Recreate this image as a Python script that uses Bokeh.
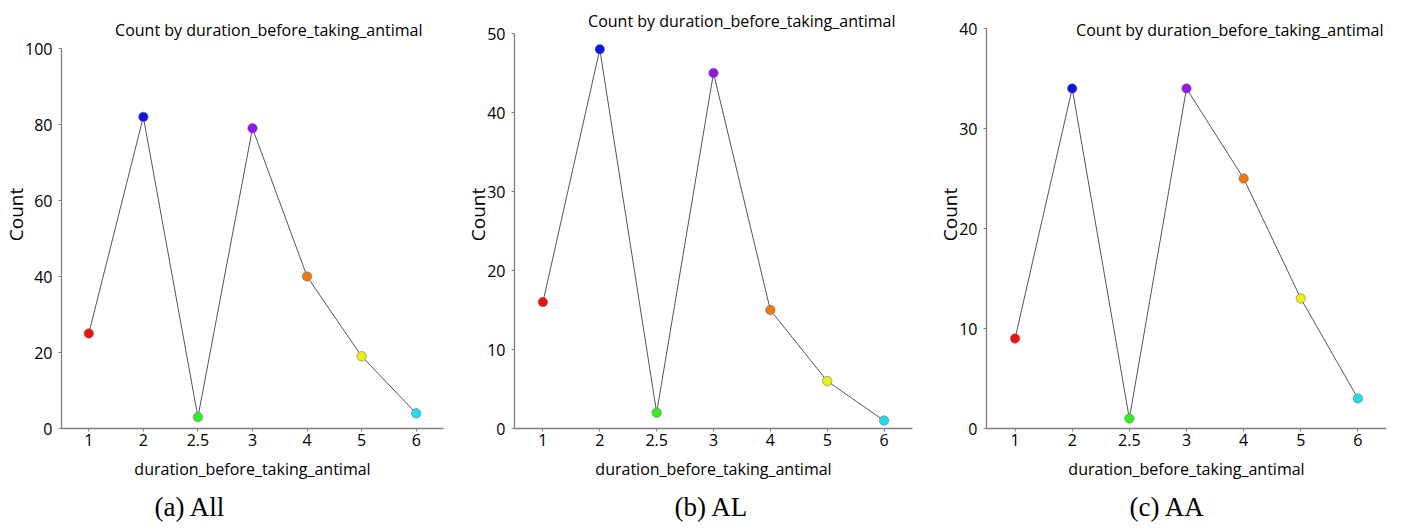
from bokeh.plotting import figure
from bokeh.models import FactorRange, Range1d, FixedTicker, Title, ColumnDataSource, Label
from bokeh.layouts import row
from bokeh.embed import file_html
from bokeh.resources import INLINE

categories = ["1", "2", "2.5", "3", "4", "5", "6"]
counts_all = [25, 82, 3, 79, 40, 19, 4]
counts_al = [16, 48, 2, 45, 15, 6, 1]
counts_aa = [9, 34, 1, 34, 25, 13, 3]
point_colors = ["#ee1111", "#1111ee", "#33ee22", "#9911ee", "#ee7711", "#eeee11", "#22ddee"]
yticks_all = [0, 20, 40, 60, 80, 100]
yticks_al = [0, 10, 20, 30, 40, 50]
yticks_aa = [0, 10, 20, 30, 40]
title_text = "Count by duration_before_taking_antimal"
x_label = "duration_before_taking_antimal"
y_label = "Count"
captions = ["(a) All", "(b) AL", "(c) AA"]

SANS = "Open Sans"
PAGE_TOP = 0          # observed: the layout starts at the top edge
FRAME_BOTTOM = 428    # page y of the x axis
FRAME_H = FRAME_BOTTOM - PAGE_TOP
LEFT = 52
BOTTOM = 102


def make_panel(values, yticks, caption, fw, right, top_tick_px,
               title_right_px, title_base_px, cap_offset):
    ppu = (FRAME_BOTTOM - top_tick_px) / yticks[-1]
    y_end = FRAME_H / ppu
    p = figure(x_range=FactorRange(factors=categories),
               y_range=Range1d(0, y_end),
               frame_width=fw, frame_height=FRAME_H,
               min_border_left=LEFT, min_border_right=right,
               min_border_top=0, min_border_bottom=BOTTOM,
               output_backend="svg", toolbar_location=None, title=None,
               background_fill_color="white", border_fill_color="white")
    p.outline_line_color = None
    p.xgrid.grid_line_color = None
    p.ygrid.grid_line_color = None

    n = len(categories)
    tx = title_right_px * n / fw
    ty = y_end - (title_base_px - PAGE_TOP) / ppu
    p.add_layout(Label(x=tx, y=ty, text=title_text, text_align="right",
                       text_baseline="alphabetic", text_font=SANS,
                       text_font_size="16px", text_color="black"))

    src = ColumnDataSource(dict(x=categories, y=values, c=point_colors))
    p.line("x", "y", source=src, line_color="#555555", line_width=1)
    p.scatter("x", "y", source=src, size=9.5, fill_color="c",
              line_color="#777777", line_width=0.6)

    p.yaxis.ticker = FixedTicker(ticks=yticks)
    p.yaxis.bounds = (yticks[0], yticks[-1])
    for ax in (p.xaxis[0], p.yaxis[0]):
        ax.axis_line_color = "#808080"
        ax.axis_line_width = 1.3
        ax.major_tick_line_color = "#808080"
        ax.major_tick_out = 3
        ax.major_tick_in = 0
        ax.minor_tick_out = 0
        ax.minor_tick_in = 0
        ax.major_label_text_font = SANS
        ax.major_label_text_font_size = "16px"
        ax.major_label_text_color = "black"
        ax.axis_label_text_font = SANS
        ax.axis_label_text_font_style = "normal"
        ax.axis_label_text_color = "black"
    p.xaxis.axis_label = x_label
    p.xaxis.axis_label_text_font_size = "16px"
    p.xaxis.major_label_standoff = 2
    p.xaxis.axis_label_standoff = 9
    p.yaxis.axis_label = y_label
    p.yaxis.axis_label_text_font_size = "19px"
    p.yaxis.major_label_standoff = 6
    p.yaxis.axis_label_standoff = -7

    cap = Title(text=caption, align="left", offset=cap_offset,
                text_font="Liberation Serif", text_font_size="27px",
                text_font_style="normal", text_color="black",
                standoff=14)
    p.add_layout(cap, "below")
    return p


# frame lefts on page: 60, 513, 985
pa = make_panel(counts_all, yticks_all, captions[0], 382, 19, 48,
                421 - 60, 29.5, 93)
pb = make_panel(counts_al, yticks_al, captions[1], 398, 22, 33,
                894 - 513, 20.5, 160)
pc = make_panel(counts_aa, yticks_aa, captions[2], 400, 8, 28,
                1382 - 985, 29.5, 143)

layout = row(pa, pb, pc)
open("out.html", "w").write(file_html(layout, INLINE))
